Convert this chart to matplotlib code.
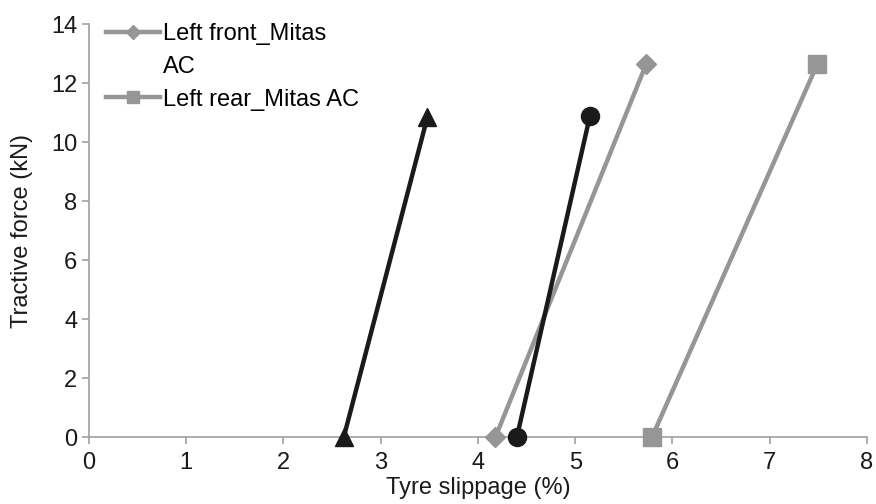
import matplotlib
matplotlib.use("Agg")
import matplotlib.pyplot as plt
from matplotlib.lines import Line2D

plt.rcParams['font.family'] = ['Liberation Sans', 'DejaVu Sans']

front_x = [4.18, 5.73]
front_y = [0.0, 12.65]
rear_x = [5.79, 7.49]
rear_y = [0.0, 12.65]
tri_x = [2.62, 3.48]
tri_y = [0.0, 10.85]
circ_x = [4.40, 5.15]
circ_y = [0.0, 10.87]
legend_labels = ['Left front_Mitas', 'AC', 'Left rear_Mitas AC']

gray = '#969696'
black = '#1a1a1a'

fig = plt.figure(figsize=(8.76, 5.04), dpi=100)
ax = fig.add_axes([0.1016, 0.1329, 0.8881, 0.8191])

h1, = ax.plot(front_x, front_y, color=gray, lw=3.2, marker='D', ms=10, clip_on=False, zorder=3)
h2, = ax.plot(rear_x, rear_y, color=gray, lw=3.2, marker='s', ms=13, clip_on=False, zorder=3)
ax.plot(tri_x, tri_y, color=black, lw=3.2, marker='^', ms=13, clip_on=False, zorder=4)
ax.plot(circ_x, circ_y, color=black, lw=3.2, marker='o', ms=13, clip_on=False, zorder=4)

ax.set_xlim(0, 8)
ax.set_ylim(0, 14)
ax.set_xticks(range(0, 9))
ax.set_yticks(range(0, 15, 2))
for s in ['top', 'right']:
    ax.spines[s].set_visible(False)
for s in ['left', 'bottom']:
    ax.spines[s].set_color('#a0a0a0')
    ax.spines[s].set_linewidth(1.2)
ax.tick_params(axis='both', colors='#a0a0a0', labelcolor='#1a1a1a', labelsize=17, length=5, width=1.2)
ax.tick_params(axis='x', pad=6)
ax.set_xlabel('Tyre slippage (%)', fontsize=17, color='#1a1a1a', labelpad=2)
ax.set_ylabel('Tractive force (kN)', fontsize=17, color='#1a1a1a', labelpad=13)

blank = Line2D([], [], linestyle='none', marker='none')
leg = ax.legend([h1, blank, h2], legend_labels, loc='upper left', bbox_to_anchor=(0.0, 1.042),
                frameon=False, fontsize=17, handlelength=2.3, handletextpad=0.15,
                markerscale=0.7, labelspacing=0.45, borderaxespad=0.3)

fig.savefig('out.png', dpi=100)
